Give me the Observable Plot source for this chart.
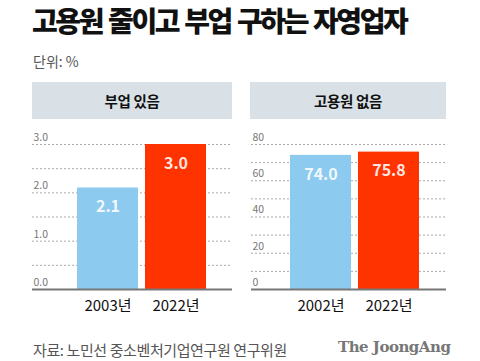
<!DOCTYPE html>
<html>
<head>
<meta charset="utf-8">
<script src="https://cdn.jsdelivr.net/npm/d3@7"></script>
<script src="https://cdn.jsdelivr.net/npm/@observablehq/plot@0.6"></script>
<style>
  html, body { margin: 0; padding: 0; background: #fff; }
  body { width: 480px; height: 361px; position: relative; overflow: hidden; font-family: "Noto Sans CJK KR", "Noto Sans", sans-serif; }
  .abs { position: absolute; }
  #title { left: 32px; top: 0px; font-size: 28px; font-weight: 900; letter-spacing: -2.4px; word-spacing: 2px; color: #111; white-space: nowrap; }
  #unit { left: 33px; top: 51px; font-size: 14px; color: #555; white-space: nowrap; }
  .hdr { top: 82px; height: 37px; background: #d9e1e6; font-size: 14.5px; font-weight: 700; color: #111; text-align: center; line-height: 37px; letter-spacing: -0.3px; }
  #h1 { left: 32px; width: 200px; }
  #h2 { left: 250px; width: 196px; }
  #p1 { left: 0; top: 125px; }
  #p2 { left: 240px; top: 125px; }
  #src { left: 33px; top: 339px; font-size: 15px; color: #555; white-space: nowrap; letter-spacing: -0.4px; }
  #logo { left: 338px; top: 338px; font-family: "DejaVu Serif", "Liberation Serif", serif; font-size: 15px; font-weight: 700; color: #777; white-space: nowrap; letter-spacing: -0.5px; }
</style>
</head>
<body>
<div id="title" class="abs">고용원 줄이고 부업 구하는 자영업자</div>
<div id="unit" class="abs">단위: %</div>
<div id="h1" class="abs hdr"></div>
<div id="h2" class="abs hdr"></div>
<div id="p1" class="abs"></div>
<div id="p2" class="abs"></div>
<div id="src" class="abs">자료: 노민선 중소벤처기업연구원 연구위원</div>
<div id="logo" class="abs">The JoongAng</div>
<script>
// Panel titles
const panelTitles = ["부업 있음", "고용원 없음"];
// Left panel: side job
const sideYears = ["2003년", "2022년"];
const sideValues = [2.1, 3.0];
const sideTickLabels = [0, 1, 2, 3];
const sideGrid = [0.5, 1, 1.5, 2, 2.5, 3];
// Right panel: no employees
const soloYears = ["2002년", "2022년"];
const soloValues = [74.0, 75.8];
const soloTickLabels = [0, 20, 40, 60, 80];
const soloGrid = [10, 20, 30, 40, 50, 60, 70, 80];
const barColors = ["#8dcaf0", "#ff3300"];

document.getElementById("h1").textContent = panelTitles[0];
document.getElementById("h2").textContent = panelTitles[1];

function panel(years, values, grid, tickLabels, yMax, tickFmt, opts) {
  const data = years.map((y, i) => ({year: y, value: values[i], color: barColors[i]}));
  return Plot.plot({
    width: 240,
    height: 190,
    marginLeft: opts.ml,
    marginRight: opts.mr,
    marginTop: 19,
    marginBottom: 26,
    style: {fontFamily: "'Noto Sans CJK KR', sans-serif", background: "transparent"},
    x: {domain: years, range: opts.range, paddingInner: 0.1, paddingOuter: 0},
    y: {domain: [0, yMax], axis: null},
    marks: [
      Plot.ruleY(grid, {stroke: "#aaa", strokeDasharray: "2,2", strokeWidth: 1}),
      Plot.barY(data, {x: "year", y: "value", fill: "color"}),
      Plot.ruleY([0], {stroke: "#777", strokeWidth: 2}),
      Plot.text(tickLabels, {y: d => d, text: d => tickFmt(d), frameAnchor: "left", textAnchor: "start", dx: 1, dy: -7, fill: "#777", fontSize: 10.5}),
      Plot.text(data, {x: "year", y: "value", text: d => d3.format(".1f")(d.value), dy: 19, fill: "#fff", fillOpacity: 0.9, fontSize: 16, fontWeight: 700}),
      Plot.axisX({tickSize: 0, tickPadding: 11, fontSize: 15, color: "#111", label: null})
    ]
  });
}

document.getElementById("p1").append(
  panel(sideYears, sideValues, sideGrid, sideTickLabels, 3, d3.format(".1f"), {ml: 32, mr: 8, range: [77, 207]})
);
document.getElementById("p2").append(
  panel(soloYears, soloValues, soloGrid, soloTickLabels, 80, d3.format("d"), {ml: 11, mr: 34, range: [50, 180]})
);
</script>
</body>
</html>
